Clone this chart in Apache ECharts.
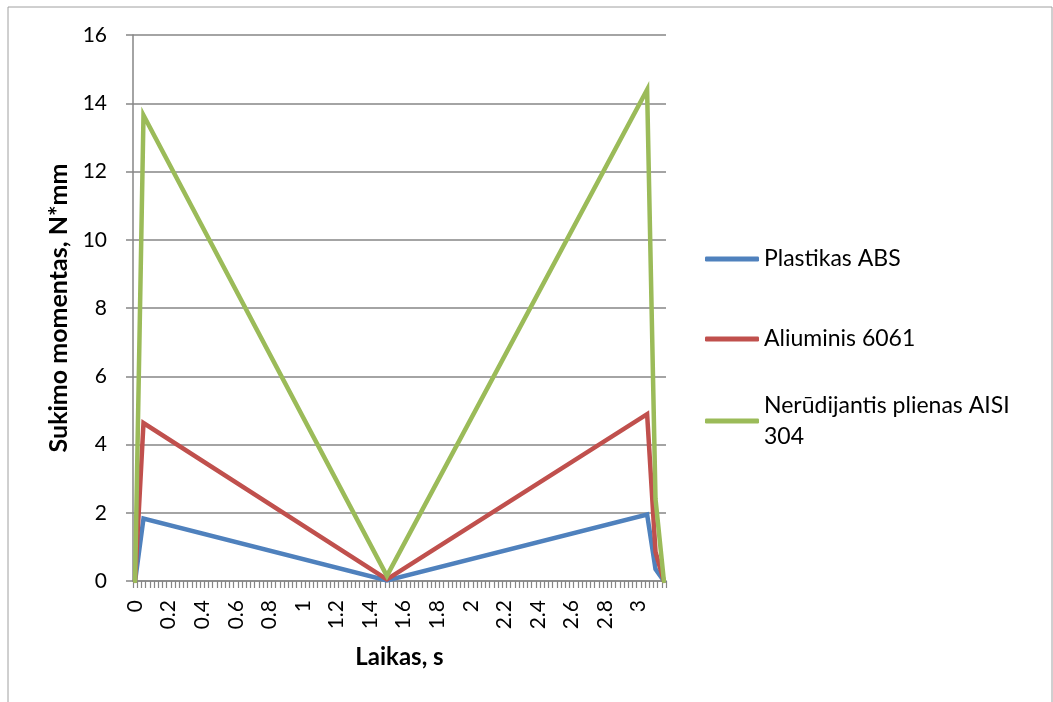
<!DOCTYPE html>
<html>
<head>
<meta charset="utf-8">
<script src="https://cdn.jsdelivr.net/npm/echarts@6/dist/echarts.min.js"></script>
<style>
  html, body { margin: 0; padding: 0; background: #ffffff; }
  #chart { width: 1053px; height: 702px; }
</style>
</head>
<body>
<div id="chart"></div>
<script>
// Time axis: samples every 0.025 s from 0 to 3.15 s
const timeStep = 0.025;
const timeCount = 127;
const categories = [];
for (let i = 0; i < timeCount; i++) {
  categories.push(String(+(i * timeStep).toFixed(3)));
}

const seriesNames = ['Plastikas ABS', 'Aliuminis 6061', 'Nerūdijantis plienas AISI 304'];
const seriesColors = ['#4F81BD', '#C0504D', '#9BBB59'];

// Break points of each torque curve (time in s, torque in N*mm)
const breakTimes  = [0, 0.05, 1.5, 3.05, 3.1, 3.15];
const absTorque   = [0, 1.83, 0.02, 1.95, 0.35, 0];
const aluTorque   = [0, 4.63, 0.05, 4.89, 0.85, 0];
const steelTorque = [0, 13.65, 0.15, 14.4, 2.4, 0];

const yMin = 0, yMax = 16, yStep = 2;

const FONT = 'Lato, "Open Sans", sans-serif';
const GRID_COLOR = '#868686';

function pairs(values) {
  return breakTimes.map((t, i) => [String(t), values[i]]);
}

function lineSeries(idx, values) {
  return {
    name: seriesNames[idx],
    type: 'line',
    data: pairs(values),
    symbol: 'none',
    animation: false,
    lineStyle: { color: seriesColors[idx], width: 4.5, join: 'miter', cap: 'round' },
    itemStyle: { color: seriesColors[idx] }
  };
}

const legendText = { fontFamily: FONT, fontSize: 23, color: '#000', lineHeight: 31 };

function legendAt(idx, top, extra) {
  return Object.assign({
    data: [{ name: seriesNames[idx], icon: 'roundRect' }],
    orient: 'vertical',
    left: 705,
    top: top,
    padding: 0,
    itemWidth: 54,
    itemHeight: 5,
    selectedMode: false,
    textStyle: legendText
  }, extra || {});
}

const chart = echarts.init(document.getElementById('chart'), null, { renderer: 'canvas' });
chart.setOption({
  backgroundColor: '#ffffff',
  animation: false,
  grid: { left: 133, right: 387, top: 35, bottom: 121, containLabel: false },
  xAxis: {
    type: 'category',
    data: categories,
    boundaryGap: true,
    name: 'Laikas, s',
    nameLocation: 'middle',
    nameGap: 64,
    nameTextStyle: { fontFamily: FONT, fontSize: 24, fontWeight: 'bold', color: '#000' },
    axisLine: { lineStyle: { color: GRID_COLOR, width: 1.5 } },
    axisTick: { show: true, interval: 0, length: 7, lineStyle: { color: GRID_COLOR, width: 1.2 } },
    axisLabel: {
      interval: 7, rotate: 90, margin: 19,
      fontFamily: FONT, fontSize: 21, color: '#000'
    },
    splitLine: { show: false }
  },
  yAxis: {
    type: 'value',
    min: yMin, max: yMax, interval: yStep,
    name: 'Sukimo momentas, N*mm',
    nameLocation: 'middle',
    nameRotate: 90,
    nameGap: 61,
    nameTextStyle: { fontFamily: FONT, fontSize: 25, fontWeight: 'bold', color: '#000' },
    axisLine: { show: true, lineStyle: { color: GRID_COLOR, width: 1.5 } },
    axisTick: { show: true, length: 7, lineStyle: { color: GRID_COLOR, width: 1.5 } },
    axisLabel: { margin: 26, fontFamily: FONT, fontSize: 21, color: '#000' },
    splitLine: { show: true, lineStyle: { color: GRID_COLOR, width: 1.5 } }
  },
  legend: [
    legendAt(0, 243.5),
    legendAt(1, 323.5),
    legendAt(2, 374.5, {
      formatter: () => 'Nerūdijantis plienas AISI\n304',
      textStyle: Object.assign({}, legendText, { padding: [31, 0, 0, 0] })
    })
  ],
  series: [
    lineSeries(0, absTorque),
    lineSeries(1, aluTorque),
    lineSeries(2, steelTorque)
  ],
  graphic: [{
    type: 'rect',
    silent: true,
    z: -1,
    shape: { x: 8, y: 7, width: 1044, height: 720 },
    style: { fill: 'none', stroke: '#a0a0a0', lineWidth: 1 }
  }]
});
</script>
</body>
</html>
